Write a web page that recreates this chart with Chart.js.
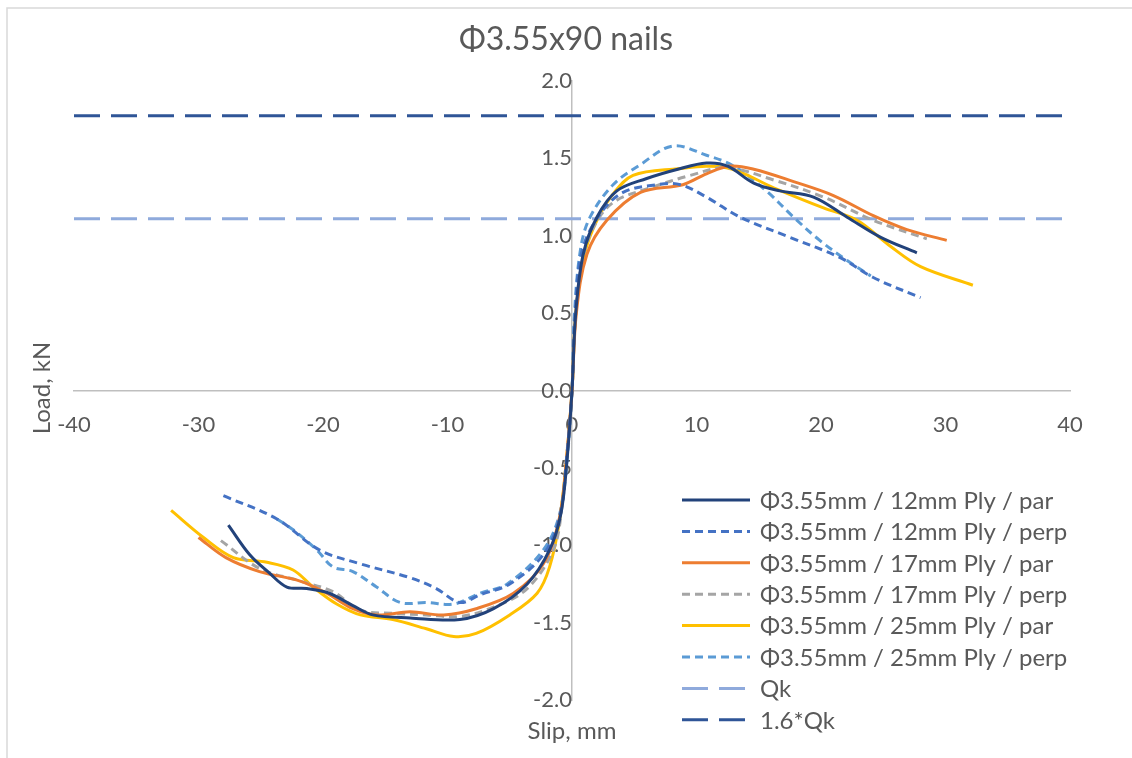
<!DOCTYPE html>
<html>
<head>
<meta charset="utf-8">
<script src="https://cdn.jsdelivr.net/npm/chart.js@4.4.0/dist/chart.umd.min.js"></script>
<style>
  html, body { margin: 0; padding: 0; background: #fff; }
  #wrap { width: 1132px; height: 758px; position: relative; }
</style>
</head>
<body>
<div id="wrap"><canvas id="myChartSlip" width="1132" height="758"></canvas></div>
<script>
// slip (mm) / load (kN)
const slip12Par  = [-27.6, -25.9, -24.3, -22.9, -21.3, -19.5, -17.6, -16.0, -13.0, -9.0, -6.3, -3.6, -1.8, -0.9, -0.4, 0, 0.3, 0.9, 2.0, 3.6, 6.0, 8.5, 10.8, 12.5, 14.6, 16.7, 19.4, 22.1, 24.8, 27.7];
const load12Par  = [-0.87, -1.06, -1.18, -1.27, -1.28, -1.31, -1.39, -1.45, -1.47, -1.48, -1.41, -1.25, -1.03, -0.80, -0.45, 0, 0.50, 0.88, 1.12, 1.29, 1.37, 1.43, 1.47, 1.45, 1.34, 1.29, 1.25, 1.12, 0.99, 0.89];

const slip12Perp = [-28.0, -23.7, -20.3, -17.0, -13.0, -10.9, -9.0, -7.4, -5.0, -2.3, -1.0, -0.45, 0, 0.25, 0.8, 2.25, 4.1, 6.8, 8.7, 10.8, 13.5, 17.5, 21.5, 24.2, 28.0];
const load12Perp = [-0.68, -0.83, -1.03, -1.12, -1.21, -1.28, -1.37, -1.32, -1.25, -1.06, -0.82, -0.45, 0, 0.50, 0.90, 1.14, 1.28, 1.33, 1.33, 1.25, 1.12, 0.99, 0.86, 0.73, 0.60];

const slip17Par  = [-30.0, -27.8, -25.1, -21.9, -19.7, -17.6, -15.7, -13.0, -10.3, -7.7, -4.7, -2.3, -1.0, -0.45, 0, 0.35, 1.2, 2.8, 5.5, 8.9, 10.8, 12.7, 14.6, 17.8, 21.0, 24.2, 26.9, 30.1];
const load17Par  = [-0.95, -1.08, -1.17, -1.23, -1.31, -1.41, -1.45, -1.43, -1.45, -1.41, -1.31, -1.12, -0.82, -0.45, 0, 0.50, 0.88, 1.10, 1.28, 1.33, 1.40, 1.45, 1.43, 1.35, 1.26, 1.13, 1.04, 0.97];

const slip17Perp = [-28.2, -25.1, -21.9, -19.2, -17.0, -14.4, -11.7, -9.0, -6.3, -3.6, -1.5, -0.8, -0.4, 0, 0.3, 1.0, 2.2, 3.6, 6.3, 9.5, 12.4, 16.2, 20.2, 24.2, 28.5];
const load17Perp = [-0.97, -1.15, -1.23, -1.30, -1.42, -1.44, -1.45, -1.46, -1.40, -1.28, -1.03, -0.75, -0.40, 0, 0.50, 0.90, 1.12, 1.23, 1.31, 1.39, 1.44, 1.36, 1.25, 1.10, 0.98];

const slip25Par  = [-32.2, -29.6, -27.2, -24.5, -22.4, -20.8, -18.9, -17.0, -14.4, -11.7, -9.5, -7.7, -5.0, -2.8, -1.8, -1.0, -0.45, 0, 0.3, 1.0, 2.0, 3.3, 4.9, 8.1, 12.4, 16.2, 20.2, 22.9, 25.6, 28.0, 32.2];
const load25Par  = [-0.775, -0.95, -1.08, -1.11, -1.16, -1.27, -1.38, -1.45, -1.48, -1.54, -1.59, -1.57, -1.45, -1.31, -1.14, -0.84, -0.45, 0, 0.50, 0.88, 1.10, 1.27, 1.39, 1.43, 1.44, 1.31, 1.18, 1.10, 0.93, 0.80, 0.68];

const slip25Perp = [-23.7, -22.4, -20.5, -19.2, -17.6, -15.7, -13.8, -11.7, -9.5, -7.4, -5.2, -2.3, -1.0, -0.4, 0, 0.2, 0.7, 1.45, 3.3, 5.5, 8.1, 10.8, 13.0, 15.6, 17.8, 19.9, 22.1, 24.0];
const load25Perp = [-0.83, -0.90, -1.03, -1.14, -1.17, -1.27, -1.37, -1.37, -1.38, -1.31, -1.25, -1.03, -0.80, -0.45, 0, 0.50, 0.92, 1.12, 1.33, 1.46, 1.58, 1.52, 1.45, 1.29, 1.12, 0.97, 0.84, 0.74];

const qkSlip = [-40, 40];
const qkLoad = 1.11;
const qk16Load = 1.776;

const seriesLabels = [
    'Φ3.55mm / 12mm Ply / par',
    'Φ3.55mm / 12mm Ply / perp',
    'Φ3.55mm / 17mm Ply / par',
    'Φ3.55mm / 17mm Ply / perp',
    'Φ3.55mm / 25mm Ply / par',
    'Φ3.55mm / 25mm Ply / perp',
    'Qk',
    '1.6*Qk'
];
const xTicks = [-40, -30, -20, -10, 0, 10, 20, 30, 40];
const yTicks = [-2.0, -1.5, -1.0, -0.5, 0.0, 0.5, 1.0, 1.5, 2.0];

const textColor = '#595959';
const fontFamily = 'Lato, "Open Sans", sans-serif';

function toPoints(xs, ys) {
    return xs.map((x, i) => ({ x: x, y: Array.isArray(ys) ? ys[i] : ys }));
}

function curve(label, xs, ys, color, dash) {
    return {
        label: label,
        data: toPoints(xs, ys),
        borderColor: color,
        backgroundColor: color,
        borderWidth: 3,
        borderDash: dash || [],
        pointRadius: 0,
        showLine: true,
        tension: 0.35,
        fill: false
    };
}

const datasets = [
    curve(seriesLabels[0], slip12Par, load12Par, '#22427a'),
    curve(seriesLabels[1], slip12Perp, load12Perp, '#4472c4', [8, 5]),
    curve(seriesLabels[2], slip17Par, load17Par, '#ed7d31'),
    curve(seriesLabels[3], slip17Perp, load17Perp, '#a5a5a5', [8, 5]),
    curve(seriesLabels[4], slip25Par, load25Par, '#ffc000'),
    curve(seriesLabels[5], slip25Perp, load25Perp, '#5b9bd5', [8, 5]),
    curve(seriesLabels[6], qkSlip, qkLoad, '#8faadc', [26, 11]),
    curve(seriesLabels[7], qkSlip, qk16Load, '#2f5597', [26, 11])
];
datasets[6].tension = 0;
datasets[7].tension = 0;

// title, axis titles, legend and frame drawn by hand so they sit like the original
const decorations = {
    id: 'decorations',
    afterDraw(chart) {
        const ctx = chart.ctx;
        ctx.save();

        ctx.strokeStyle = '#d9d9d9';
        ctx.lineWidth = 1.5;
        ctx.strokeRect(7, 8, 1200, 800);

        ctx.fillStyle = textColor;
        ctx.textAlign = 'center';
        ctx.textBaseline = 'middle';
        ctx.font = '32px ' + fontFamily;
        ctx.fillText('Φ3.55x90 nails', 566, 40);

        ctx.font = '24px ' + fontFamily;
        ctx.fillText('Slip, mm', 572, 731);

        ctx.save();
        ctx.translate(42, 388);
        ctx.rotate(-Math.PI / 2);
        ctx.fillText('Load, kN', 0, 0);
        ctx.restore();

        // legend
        const x0 = 682, x1 = 750, tx = 760;
        let y = 500;
        ctx.textAlign = 'left';
        ctx.font = '24px ' + fontFamily;
        chart.data.datasets.forEach(ds => {
            ctx.beginPath();
            ctx.strokeStyle = ds.borderColor;
            ctx.lineWidth = ds.borderWidth;
            ctx.setLineDash(ds.borderDash);
            ctx.moveTo(x0, y);
            ctx.lineTo(x1, y);
            ctx.stroke();
            ctx.setLineDash([]);
            ctx.fillStyle = textColor;
            ctx.fillText(ds.label, tx, y + 1);
            y += 31.4;
        });

        ctx.restore();
    }
};

const ctx = document.getElementById('myChartSlip').getContext('2d');
new Chart(ctx, {
    type: 'scatter',
    data: { datasets: datasets },
    options: {
        responsive: false,
        animation: false,
        layout: { padding: { left: 74, right: 62, top: 81, bottom: 58 } },
        plugins: {
            legend: { display: false },
            title: { display: false },
            tooltip: { enabled: false }
        },
        scales: {
            x: {
                type: 'linear',
                min: -40,
                max: 40,
                position: { y: 0 },
                afterBuildTicks: axis => { axis.ticks = xTicks.map(v => ({ value: v })); },
                grid: { display: false, drawTicks: false },
                border: { display: true, color: '#bfbfbf', width: 1.5 },
                ticks: {
                    color: textColor,
                    padding: 21,
                    maxRotation: 0,
                    autoSkip: false,
                    font: { family: fontFamily, size: 22 }
                }
            },
            y: {
                type: 'linear',
                min: -2,
                max: 2,
                position: { x: 0 },
                afterBuildTicks: axis => { axis.ticks = yTicks.map(v => ({ value: v })); },
                grid: { display: false, drawTicks: false },
                border: { display: true, color: '#bfbfbf', width: 1.5 },
                ticks: {
                    color: textColor,
                    padding: 24,
                    autoSkip: false,
                    font: { family: fontFamily, size: 22 },
                    callback: v => v.toFixed(1)
                }
            }
        }
    },
    plugins: [decorations]
});
</script>
</body>
</html>
